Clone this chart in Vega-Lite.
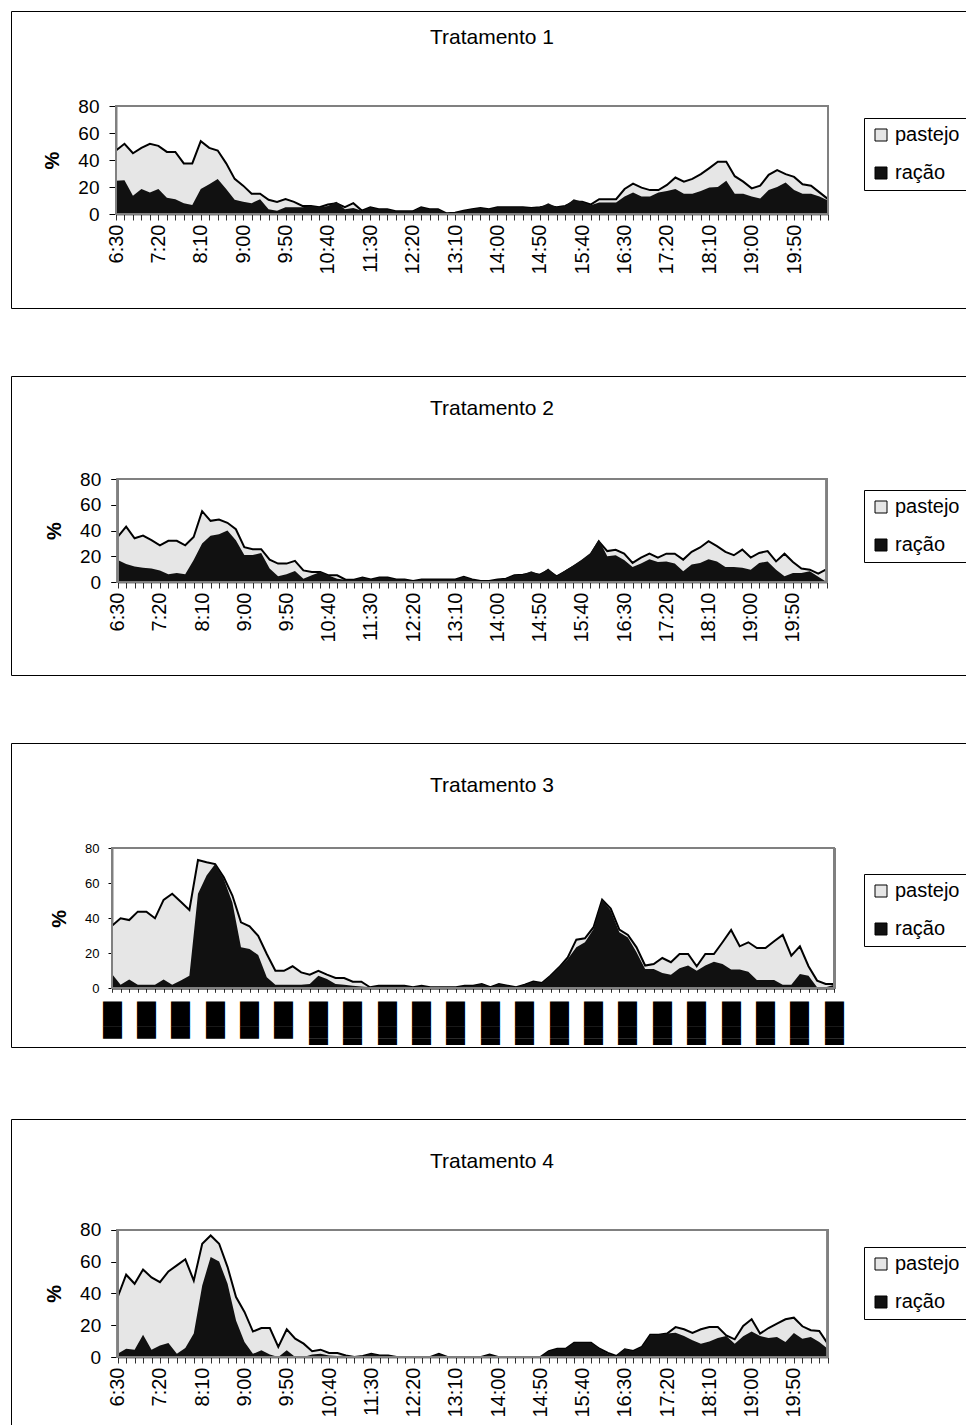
{
"$schema": "https://vega.github.io/schema/vega-lite/v6.json",
"padding": {"left": 10, "top": 10, "right": 0, "bottom": 0},
"spacing": 66,
"resolve": {"scale": {"x": "independent", "y": "independent", "color": "independent"}, "legend": {"color": "independent"}, "axis": {"x": "independent", "y": "independent"}},
"config": {
 "font": "Liberation Sans",
 "view": {"stroke": "black", "strokeWidth": 1},
 "title": {"fontSize": 21, "fontWeight": "normal", "color": "black", "anchor": "middle", "frame": "group"},
 "axis": {"grid": false, "domainColor": "black", "labelColor": "black", "titleColor": "black", "zindex": 1, "domainWidth": 1.5},
 "legend": {"orient": "none", "symbolType": "square", "symbolSize": 144, "labelFontSize": 20, "labelColor": "black", "padding": 7, "rowPadding": 18, "labelOffset": 4, "strokeColor": "black", "fillColor": "white", "symbolStrokeColor": "black", "symbolStrokeWidth": 1}
},
"vconcat": [
{
 "width": 962, "height": 297,
 "title": {"text": "Tratamento 1", "offset": -37},
 "data": {"values": [
{"min":390,"pastejo":47,"racao":24.6},{"min":400,"pastejo":52,"racao":25},{"min":410,"pastejo":45,"racao":13.5},{"min":420,"pastejo":49,"racao":18.5},{"min":430,"pastejo":52,"racao":16},{"min":440,"pastejo":50.5,"racao":18.5},{"min":450,"pastejo":46,"racao":12},{"min":460,"pastejo":46,"racao":11},{"min":470,"pastejo":37.5,"racao":8},{"min":480,"pastejo":37.5,"racao":6.6},
{"min":490,"pastejo":54,"racao":18.5},{"min":500,"pastejo":49,"racao":22},{"min":510,"pastejo":47,"racao":26},{"min":520,"pastejo":37.5,"racao":18.5},{"min":530,"pastejo":26,"racao":10.5},{"min":540,"pastejo":21,"racao":9},{"min":550,"pastejo":15,"racao":8},{"min":560,"pastejo":15,"racao":11},{"min":570,"pastejo":10.5,"racao":3.5},{"min":580,"pastejo":9,"racao":2.5},
{"min":590,"pastejo":11,"racao":5},{"min":600,"pastejo":9,"racao":5},{"min":610,"pastejo":6,"racao":5},{"min":620,"pastejo":6,"racao":6},{"min":630,"pastejo":5,"racao":5},{"min":640,"pastejo":7,"racao":6},{"min":650,"pastejo":8,"racao":9},{"min":660,"pastejo":5,"racao":3.5},{"min":670,"pastejo":8,"racao":4.5},{"min":680,"pastejo":2.5,"racao":2.5},
{"min":690,"pastejo":5,"racao":5},{"min":700,"pastejo":3.5,"racao":3.5},{"min":710,"pastejo":3.5,"racao":3.5},{"min":720,"pastejo":2,"racao":2},{"min":730,"pastejo":2,"racao":2},{"min":740,"pastejo":2,"racao":2},{"min":750,"pastejo":5,"racao":5},{"min":760,"pastejo":3.5,"racao":3.5},{"min":770,"pastejo":3.5,"racao":3.5},{"min":780,"pastejo":0.5,"racao":0.5},
{"min":790,"pastejo":1,"racao":1},{"min":800,"pastejo":2.5,"racao":2.5},{"min":810,"pastejo":3.5,"racao":3.5},{"min":820,"pastejo":4.5,"racao":4.5},{"min":830,"pastejo":3.5,"racao":3.5},{"min":840,"pastejo":5,"racao":5},{"min":850,"pastejo":5,"racao":5},{"min":860,"pastejo":5,"racao":5},{"min":870,"pastejo":5,"racao":5},{"min":880,"pastejo":4.5,"racao":4.5},
{"min":890,"pastejo":5,"racao":5},{"min":900,"pastejo":6,"racao":8},{"min":910,"pastejo":5,"racao":5},{"min":920,"pastejo":6,"racao":6},{"min":930,"pastejo":9,"racao":11},{"min":940,"pastejo":9,"racao":9},{"min":950,"pastejo":7,"racao":6.5},{"min":960,"pastejo":11,"racao":8.5},{"min":970,"pastejo":11,"racao":8.5},{"min":980,"pastejo":11,"racao":8.5},
{"min":990,"pastejo":18.5,"racao":13},{"min":1000,"pastejo":22.5,"racao":16},{"min":1010,"pastejo":19.5,"racao":13},{"min":1020,"pastejo":17.7,"racao":13},{"min":1030,"pastejo":17.7,"racao":16},{"min":1040,"pastejo":21.5,"racao":17},{"min":1050,"pastejo":27,"racao":18.5},{"min":1060,"pastejo":24,"racao":15},{"min":1070,"pastejo":26,"racao":15},{"min":1080,"pastejo":29.5,"racao":17},
{"min":1090,"pastejo":34,"racao":19.7},{"min":1100,"pastejo":38.7,"racao":20},{"min":1110,"pastejo":38.7,"racao":24.6},{"min":1120,"pastejo":28,"racao":15},{"min":1130,"pastejo":24,"racao":15},{"min":1140,"pastejo":19,"racao":13},{"min":1150,"pastejo":21,"racao":11.5},{"min":1160,"pastejo":29,"racao":17.7},{"min":1170,"pastejo":32.5,"racao":20},{"min":1180,"pastejo":29.5,"racao":23.4},
{"min":1190,"pastejo":27.5,"racao":17.7},{"min":1200,"pastejo":22,"racao":15},{"min":1210,"pastejo":21,"racao":15},{"min":1220,"pastejo":16,"racao":13},{"min":1230,"pastejo":11,"racao":10}
 ]},
 "layer": [
  {"mark": {"type": "area"},
   "encoding": {
    "x": {"field": "min", "type": "quantitative", "scale": {"domain": [390, 1230], "nice": false, "zero": false, "range": [105, 817]},
          "axis": {"title": null, "offset": -94, "tickCount": 85, "labelAngle": -90, "labelFontSize": 20, "labelPadding": 4, "tickSize": 6, "tickColor": "#303030", "labelOverlap": false, "labelFlush": false, "labelBound": false,
                   "labelExpr": "(datum.value-390)%50==0 ? floor(datum.value/60)+':'+(datum.value%60<10?'0':'')+(datum.value%60) : ''"}},
    "y": {"field": "pastejo", "type": "quantitative", "stack": null, "scale": {"domain": [0, 80], "range": [203, 95], "nice": false},
          "axis": {"title": "%", "offset": -105, "values": [0, 20, 40, 60, 80], "labelFontSize": 19, "tickSize": 7, "labelPadding": 10, "tickColor": "black", "titleFontSize": 20, "titleFontWeight": "bold", "titlePadding": 15}},
    "color": {"datum": "pastejo", "scale": {"domain": ["pastejo", "ração"], "range": ["#e6e6e6", "#111111"]},
              "legend": {"title": null, "legendX": 853, "legendY": 107}}
   }},
  {"mark": {"type": "line", "color": "black", "strokeWidth": 2}, "encoding": {"x": {"field": "min", "type": "quantitative"}, "y": {"field": "pastejo", "type": "quantitative"}}},
  {"mark": {"type": "area"}, "encoding": {"x": {"field": "min", "type": "quantitative"}, "y": {"field": "racao", "type": "quantitative", "stack": null}, "color": {"datum": "ração"}}},
  {"mark": {"type": "rect", "fillOpacity": 0, "stroke": "#808080", "strokeWidth": 1.5},
   "encoding": {"x": {"datum": 390, "type": "quantitative"}, "x2": {"datum": 1230}, "y": {"datum": 0, "type": "quantitative"}, "y2": {"datum": 80}}}
 ]
},
{
 "width": 962, "height": 299,
 "title": {"text": "Tratamento 2", "offset": -43},
 "data": {"values": [
{"min":390,"pastejo":35,"racao":17},{"min":400,"pastejo":43,"racao":14},{"min":410,"pastejo":34,"racao":12},{"min":420,"pastejo":36,"racao":11},{"min":430,"pastejo":32.5,"racao":10.4},{"min":440,"pastejo":28.5,"racao":9},{"min":450,"pastejo":32,"racao":6},{"min":460,"pastejo":32,"racao":7},{"min":470,"pastejo":28.5,"racao":6},{"min":480,"pastejo":35,"racao":17},
{"min":490,"pastejo":55,"racao":30},{"min":500,"pastejo":47.5,"racao":36},{"min":510,"pastejo":48.5,"racao":37},{"min":520,"pastejo":46,"racao":40},{"min":530,"pastejo":41,"racao":32.5},{"min":540,"pastejo":27,"racao":21},{"min":550,"pastejo":25.5,"racao":21},{"min":560,"pastejo":25.5,"racao":22.6},{"min":570,"pastejo":17.4,"racao":10.4},{"min":580,"pastejo":14.3,"racao":4.4},
{"min":590,"pastejo":14.3,"racao":6},{"min":600,"pastejo":16.4,"racao":8.6},{"min":610,"pastejo":9,"racao":2.6},{"min":620,"pastejo":7.8,"racao":5.2},{"min":630,"pastejo":7.8,"racao":7.8},{"min":640,"pastejo":5.2,"racao":5},{"min":650,"pastejo":5.2,"racao":2.6},{"min":660,"pastejo":1.8,"racao":1.8},{"min":670,"pastejo":1.8,"racao":1.8},{"min":680,"pastejo":3.4,"racao":3.4},
{"min":690,"pastejo":2,"racao":2},{"min":700,"pastejo":3.4,"racao":3.4},{"min":710,"pastejo":3.4,"racao":3.4},{"min":720,"pastejo":2,"racao":2},{"min":730,"pastejo":2,"racao":2},{"min":740,"pastejo":0.8,"racao":0.8},{"min":750,"pastejo":2,"racao":2},{"min":760,"pastejo":2,"racao":2},{"min":770,"pastejo":2,"racao":2},{"min":780,"pastejo":2,"racao":2},
{"min":790,"pastejo":2,"racao":2},{"min":800,"pastejo":4,"racao":4},{"min":810,"pastejo":2,"racao":2},{"min":820,"pastejo":0.8,"racao":0.8},{"min":830,"pastejo":0.8,"racao":0.8},{"min":840,"pastejo":2,"racao":2},{"min":850,"pastejo":2.6,"racao":2.6},{"min":860,"pastejo":5.2,"racao":5.2},{"min":870,"pastejo":5.7,"racao":5.7},{"min":880,"pastejo":7,"racao":8.3},
{"min":890,"pastejo":5.7,"racao":5.7},{"min":900,"pastejo":9,"racao":10.4},{"min":910,"pastejo":4.4,"racao":4.4},{"min":920,"pastejo":8,"racao":9},{"min":930,"pastejo":12,"racao":13},{"min":940,"pastejo":16,"racao":17.4},{"min":950,"pastejo":21,"racao":22.6},{"min":960,"pastejo":31.5,"racao":33},{"min":970,"pastejo":24,"racao":20},{"min":980,"pastejo":25,"racao":20.8},
{"min":990,"pastejo":22,"racao":17},{"min":1000,"pastejo":14.8,"racao":11.7},{"min":1010,"pastejo":19,"racao":14.3},{"min":1020,"pastejo":22,"racao":17.7},{"min":1030,"pastejo":19,"racao":15.6},{"min":1040,"pastejo":22,"racao":16},{"min":1050,"pastejo":22,"racao":14.3},{"min":1060,"pastejo":17.4,"racao":8.3},{"min":1070,"pastejo":23.4,"racao":13.5},{"min":1080,"pastejo":26.8,"racao":14.8},
{"min":1090,"pastejo":31.7,"racao":17.7},{"min":1100,"pastejo":27.8,"racao":16},{"min":1110,"pastejo":23.4,"racao":11.7},{"min":1120,"pastejo":20.8,"racao":11.7},{"min":1130,"pastejo":25.2,"racao":11},{"min":1140,"pastejo":19,"racao":9.6},{"min":1150,"pastejo":22.6,"racao":14.8},{"min":1160,"pastejo":24,"racao":16},{"min":1170,"pastejo":16,"racao":9.6},{"min":1180,"pastejo":22,"racao":4.4},
{"min":1190,"pastejo":15.6,"racao":7},{"min":1200,"pastejo":10.4,"racao":7},{"min":1210,"pastejo":9.6,"racao":8.3},{"min":1220,"pastejo":6.5,"racao":4},{"min":1230,"pastejo":10,"racao":0}
 ]},
 "layer": [
  {"mark": {"type": "area"},
   "encoding": {
    "x": {"field": "min", "type": "quantitative", "scale": {"domain": [390, 1230], "nice": false, "zero": false, "range": [106.7, 815.7]},
          "axis": {"title": null, "offset": -93, "tickCount": 85, "labelAngle": -90, "labelFontSize": 20, "labelPadding": 4, "tickSize": 6, "tickColor": "#303030", "labelOverlap": false, "labelFlush": false, "labelBound": false,
                   "labelExpr": "(datum.value-390)%50==0 ? floor(datum.value/60)+':'+(datum.value%60<10?'0':'')+(datum.value%60) : ''"}},
    "y": {"field": "pastejo", "type": "quantitative", "stack": null, "scale": {"domain": [0, 80], "range": [206, 103], "nice": false},
          "axis": {"title": "%", "offset": -106.7, "values": [0, 20, 40, 60, 80], "labelFontSize": 19, "tickSize": 7, "labelPadding": 10, "tickColor": "black", "titleFontSize": 20, "titleFontWeight": "bold", "titlePadding": 15}},
    "color": {"datum": "pastejo", "scale": {"domain": ["pastejo", "ração"], "range": ["#e6e6e6", "#111111"]},
              "legend": {"title": null, "legendX": 853, "legendY": 114}}
   }},
  {"mark": {"type": "line", "color": "black", "strokeWidth": 2}, "encoding": {"x": {"field": "min", "type": "quantitative"}, "y": {"field": "pastejo", "type": "quantitative"}}},
  {"mark": {"type": "area"}, "encoding": {"x": {"field": "min", "type": "quantitative"}, "y": {"field": "racao", "type": "quantitative", "stack": null}, "color": {"datum": "ração"}}},
  {"mark": {"type": "rect", "fillOpacity": 0, "stroke": "#808080", "strokeWidth": 1.5},
   "encoding": {"x": {"datum": 390, "type": "quantitative"}, "x2": {"datum": 1230}, "y": {"datum": 0, "type": "quantitative"}, "y2": {"datum": 80}}}
 ]
},
{
 "width": 962, "height": 304,
 "title": {"text": "Tratamento 3", "offset": -53},
 "data": {"values": [
{"min":390,"pastejo":35.8,"racao":8.2},{"min":400,"pastejo":40,"racao":2},{"min":410,"pastejo":39,"racao":5},{"min":420,"pastejo":43.8,"racao":2},{"min":430,"pastejo":43.8,"racao":2},{"min":440,"pastejo":40,"racao":2},{"min":450,"pastejo":50.5,"racao":5},{"min":460,"pastejo":54,"racao":2},{"min":470,"pastejo":49.5,"racao":4.4},{"min":480,"pastejo":44.8,"racao":7.2},
{"min":490,"pastejo":73.3,"racao":54},{"min":500,"pastejo":72,"racao":64.4},{"min":510,"pastejo":71,"racao":71},{"min":520,"pastejo":63.4,"racao":62.5},{"min":530,"pastejo":53,"racao":49},{"min":540,"pastejo":37.7,"racao":23.4},{"min":550,"pastejo":35.4,"racao":22.5},{"min":560,"pastejo":30,"racao":19},{"min":570,"pastejo":19.6,"racao":6.3},{"min":580,"pastejo":10,"racao":2},
{"min":590,"pastejo":10,"racao":2},{"min":600,"pastejo":12.6,"racao":2},{"min":610,"pastejo":9.1,"racao":2},{"min":620,"pastejo":7.8,"racao":2.5},{"min":630,"pastejo":10,"racao":7.2},{"min":640,"pastejo":7.8,"racao":5.3},{"min":650,"pastejo":5.9,"racao":2.5},{"min":660,"pastejo":5.9,"racao":2},{"min":670,"pastejo":3.8,"racao":1.5},{"min":680,"pastejo":3.8,"racao":1.1},
{"min":690,"pastejo":0.6,"racao":0.6},{"min":700,"pastejo":1.5,"racao":1.5},{"min":710,"pastejo":1.5,"racao":1.5},{"min":720,"pastejo":1.5,"racao":1.5},{"min":730,"pastejo":1.5,"racao":1.5},{"min":740,"pastejo":0.6,"racao":0.6},{"min":750,"pastejo":1.5,"racao":1.5},{"min":760,"pastejo":0.6,"racao":0.6},{"min":770,"pastejo":0.6,"racao":0.6},{"min":780,"pastejo":0.6,"racao":0.6},
{"min":790,"pastejo":0.6,"racao":0.6},{"min":800,"pastejo":1.5,"racao":1.5},{"min":810,"pastejo":1.5,"racao":1.5},{"min":820,"pastejo":2.5,"racao":2.5},{"min":830,"pastejo":0.6,"racao":0.6},{"min":840,"pastejo":2.5,"racao":2.5},{"min":850,"pastejo":1.5,"racao":1.5},{"min":860,"pastejo":0.6,"racao":0.6},{"min":870,"pastejo":2,"racao":2},{"min":880,"pastejo":3.8,"racao":3.8},
{"min":890,"pastejo":3,"racao":3},{"min":900,"pastejo":7.2,"racao":7.2},{"min":910,"pastejo":12,"racao":12},{"min":920,"pastejo":17.7,"racao":16.8},{"min":930,"pastejo":27.8,"racao":23.4},{"min":940,"pastejo":28.6,"racao":26.3},{"min":950,"pastejo":34.9,"racao":33.9},{"min":960,"pastejo":50.7,"racao":50.7},{"min":970,"pastejo":45.5,"racao":44.4},{"min":980,"pastejo":33.5,"racao":32},
{"min":990,"pastejo":30.5,"racao":29},{"min":1000,"pastejo":23.4,"racao":20.6},{"min":1010,"pastejo":13,"racao":11},{"min":1020,"pastejo":13.9,"racao":11},{"min":1030,"pastejo":17.3,"racao":8.8},{"min":1040,"pastejo":14.9,"racao":7.8},{"min":1050,"pastejo":19.6,"racao":11.4},{"min":1060,"pastejo":19.6,"racao":13},{"min":1070,"pastejo":12.6,"racao":10},{"min":1080,"pastejo":19.6,"racao":13},
{"min":1090,"pastejo":19.6,"racao":15.2},{"min":1100,"pastejo":26.3,"racao":13.9},{"min":1110,"pastejo":33.3,"racao":10.7},{"min":1120,"pastejo":24,"racao":10.7},{"min":1130,"pastejo":26.3,"racao":9.5},{"min":1140,"pastejo":23,"racao":4.8},{"min":1150,"pastejo":23,"racao":4.8},{"min":1160,"pastejo":26.9,"racao":4.8},{"min":1170,"pastejo":30.5,"racao":2},{"min":1180,"pastejo":18.7,"racao":2},
{"min":1190,"pastejo":24,"racao":8.2},{"min":1200,"pastejo":12.6,"racao":7.2},{"min":1210,"pastejo":4.4,"racao":0.6},{"min":1220,"pastejo":2.5,"racao":0.6},{"min":1230,"pastejo":2.5,"racao":2}
 ]},
 "layer": [
  {"mark": {"type": "area"},
   "encoding": {
    "x": {"field": "min", "type": "quantitative", "scale": {"domain": [390, 1230], "nice": false, "zero": false, "range": [101, 823.3]},
          "axis": {"title": null, "offset": -58.7, "tickCount": 85, "labelAngle": -90, "labelFont": "DejaVu Sans", "labelFontSize": 16, "labelPadding": 9, "tickSize": 4, "tickColor": "#303030", "labelOverlap": false, "labelFlush": false, "labelBound": false,
                   "labelExpr": "(datum.value-390)%40==0 ? (datum.value>=600 ? '▐███' : '███') : ''"}},
    "y": {"field": "pastejo", "type": "quantitative", "stack": null, "scale": {"domain": [0, 80], "range": [245.3, 105.3], "nice": false},
          "axis": {"title": "%", "offset": -101, "values": [0, 20, 40, 60, 80], "labelFontSize": 13, "tickSize": 4, "labelPadding": 9, "tickColor": "black", "titleFontSize": 20, "titleFontWeight": "bold", "titlePadding": 15}},
    "color": {"datum": "pastejo", "scale": {"domain": ["pastejo", "ração"], "range": ["#e6e6e6", "#111111"]},
              "legend": {"title": null, "legendX": 853, "legendY": 131}}
   }},
  {"mark": {"type": "line", "color": "black", "strokeWidth": 2}, "encoding": {"x": {"field": "min", "type": "quantitative"}, "y": {"field": "pastejo", "type": "quantitative"}}},
  {"mark": {"type": "area"}, "encoding": {"x": {"field": "min", "type": "quantitative"}, "y": {"field": "racao", "type": "quantitative", "stack": null}, "color": {"datum": "ração"}}},
  {"mark": {"type": "rect", "fillOpacity": 0, "stroke": "#808080", "strokeWidth": 1.5},
   "encoding": {"x": {"datum": 390, "type": "quantitative"}, "x2": {"datum": 1230}, "y": {"datum": 0, "type": "quantitative"}, "y2": {"datum": 80}}}
 ]
},
{
 "width": 962, "height": 313,
 "title": {"text": "Tratamento 4", "offset": -53},
 "data": {"values": [
{"min":390,"pastejo":37.7,"racao":2},{"min":400,"pastejo":51.7,"racao":5.2},{"min":410,"pastejo":46,"racao":4.6},{"min":420,"pastejo":55,"racao":14},{"min":430,"pastejo":50,"racao":4.6},{"min":440,"pastejo":47,"racao":7.3},{"min":450,"pastejo":53.8,"racao":8.8},{"min":460,"pastejo":57.6,"racao":2},{"min":470,"pastejo":61.4,"racao":5.7},{"min":480,"pastejo":48,"racao":14.7},
{"min":490,"pastejo":71.2,"racao":45},{"min":500,"pastejo":76.4,"racao":62.8},{"min":510,"pastejo":71.2,"racao":60},{"min":520,"pastejo":56.5,"racao":46},{"min":530,"pastejo":37.7,"racao":23},{"min":540,"pastejo":28.3,"racao":9.4},{"min":550,"pastejo":16,"racao":2},{"min":560,"pastejo":18.2,"racao":4.2},{"min":570,"pastejo":18.2,"racao":1.5},{"min":580,"pastejo":6.3,"racao":0},
{"min":590,"pastejo":17.4,"racao":4.2},{"min":600,"pastejo":11.5,"racao":0},{"min":610,"pastejo":8.4,"racao":0},{"min":620,"pastejo":3.6,"racao":1.5},{"min":630,"pastejo":4.6,"racao":2},{"min":640,"pastejo":2.5,"racao":1},{"min":650,"pastejo":2.5,"racao":0.6},{"min":660,"pastejo":1,"racao":1},{"min":670,"pastejo":0,"racao":0},{"min":680,"pastejo":0.6,"racao":0.6},
{"min":690,"pastejo":2,"racao":2},{"min":700,"pastejo":1,"racao":1},{"min":710,"pastejo":1,"racao":1},{"min":720,"pastejo":0,"racao":0},{"min":730,"pastejo":0,"racao":0},{"min":740,"pastejo":0,"racao":0},{"min":750,"pastejo":0,"racao":0},{"min":760,"pastejo":0,"racao":0},{"min":770,"pastejo":2,"racao":2},{"min":780,"pastejo":0,"racao":0},
{"min":790,"pastejo":0,"racao":0},{"min":800,"pastejo":0,"racao":0},{"min":810,"pastejo":0,"racao":0},{"min":820,"pastejo":0,"racao":0},{"min":830,"pastejo":1.5,"racao":1.5},{"min":840,"pastejo":0,"racao":0},{"min":850,"pastejo":0,"racao":0},{"min":860,"pastejo":0,"racao":0},{"min":870,"pastejo":0,"racao":0},{"min":880,"pastejo":0,"racao":0},
{"min":890,"pastejo":0,"racao":0},{"min":900,"pastejo":3.6,"racao":3.6},{"min":910,"pastejo":5.2,"racao":5.2},{"min":920,"pastejo":5.2,"racao":5.2},{"min":930,"pastejo":9,"racao":9},{"min":940,"pastejo":9,"racao":9},{"min":950,"pastejo":9,"racao":9},{"min":960,"pastejo":5.2,"racao":5.2},{"min":970,"pastejo":2.6,"racao":2},{"min":980,"pastejo":0.6,"racao":0.6},
{"min":990,"pastejo":4.8,"racao":5.2},{"min":1000,"pastejo":3.8,"racao":3.8},{"min":1010,"pastejo":6.3,"racao":6.3},{"min":1020,"pastejo":14,"racao":13.6},{"min":1030,"pastejo":14,"racao":14},{"min":1040,"pastejo":14.7,"racao":14.7},{"min":1050,"pastejo":18.8,"racao":15.3},{"min":1060,"pastejo":17.4,"racao":13.2},{"min":1070,"pastejo":15.1,"racao":10.5},{"min":1080,"pastejo":17.4,"racao":8.4},
{"min":1090,"pastejo":18.8,"racao":9.8},{"min":1100,"pastejo":18.8,"racao":12},{"min":1110,"pastejo":13.6,"racao":13.2},{"min":1120,"pastejo":11.1,"racao":8.4},{"min":1130,"pastejo":19.5,"racao":13},{"min":1140,"pastejo":23.7,"racao":16.1},{"min":1150,"pastejo":14.7,"racao":13.2},{"min":1160,"pastejo":18.2,"racao":12},{"min":1170,"pastejo":21,"racao":12.6},{"min":1180,"pastejo":23.7,"racao":9.4},
{"min":1190,"pastejo":24.7,"racao":15.1},{"min":1200,"pastejo":19.3,"racao":11.5},{"min":1210,"pastejo":16.8,"racao":12.6},{"min":1220,"pastejo":16.3,"racao":9.4},{"min":1230,"pastejo":8.4,"racao":5.2}
 ]},
 "layer": [
  {"mark": {"type": "area"},
   "encoding": {
    "x": {"field": "min", "type": "quantitative", "scale": {"domain": [390, 1230], "nice": false, "zero": false, "range": [106.7, 816.7]},
          "axis": {"title": null, "offset": -75, "tickCount": 85, "labelAngle": -90, "labelFontSize": 20, "labelPadding": 4, "tickSize": 6, "tickColor": "#303030", "labelOverlap": false, "labelFlush": false, "labelBound": false,
                   "labelExpr": "(datum.value-390)%50==0 ? floor(datum.value/60)+':'+(datum.value%60<10?'0':'')+(datum.value%60) : ''"}},
    "y": {"field": "pastejo", "type": "quantitative", "stack": null, "scale": {"domain": [0, 80], "range": [238, 110.7], "nice": false},
          "axis": {"title": "%", "offset": -106.7, "values": [0, 20, 40, 60, 80], "labelFontSize": 19, "tickSize": 7, "labelPadding": 10, "tickColor": "black", "titleFontSize": 20, "titleFontWeight": "bold", "titlePadding": 15}},
    "color": {"datum": "pastejo", "scale": {"domain": ["pastejo", "ração"], "range": ["#e6e6e6", "#111111"]},
              "legend": {"title": null, "legendX": 853, "legendY": 128}}
   }},
  {"mark": {"type": "line", "color": "black", "strokeWidth": 2}, "encoding": {"x": {"field": "min", "type": "quantitative"}, "y": {"field": "pastejo", "type": "quantitative"}}},
  {"mark": {"type": "area"}, "encoding": {"x": {"field": "min", "type": "quantitative"}, "y": {"field": "racao", "type": "quantitative", "stack": null}, "color": {"datum": "ração"}}},
  {"mark": {"type": "rect", "fillOpacity": 0, "stroke": "#808080", "strokeWidth": 1.5},
   "encoding": {"x": {"datum": 390, "type": "quantitative"}, "x2": {"datum": 1230}, "y": {"datum": 0, "type": "quantitative"}, "y2": {"datum": 80}}}
 ]
}
]
}
